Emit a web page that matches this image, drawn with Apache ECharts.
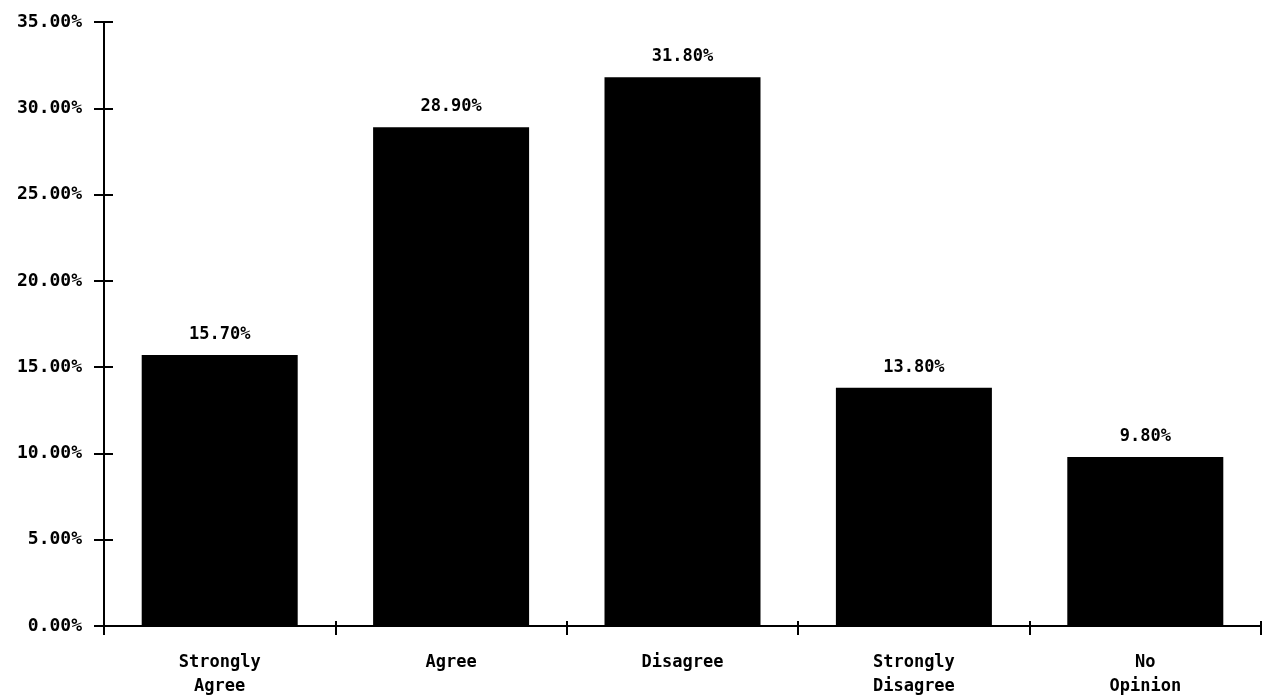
<!DOCTYPE html>
<html><head><meta charset="utf-8">
<script src="https://cdn.jsdelivr.net/npm/echarts@6/dist/echarts.min.js"></script>
<style>html,body{margin:0;padding:0;background:#fff}#c{width:1263px;height:700px}</style>
</head><body><div id="c"></div>
<script>
const categories = ["Strongly\nAgree", "Agree", "Disagree", "Strongly\nDisagree", "No\nOpinion"];
const values = [15.7, 28.9, 31.8, 13.8, 9.8];
const yTicks = [0, 5, 10, 15, 20, 25, 30, 35];

const font = '"DejaVu Sans Mono", monospace';
const yMin = yTicks[0], yMax = yTicks[yTicks.length - 1];
const chart = echarts.init(document.getElementById('c'));
chart.setOption({
  animation: false,
  backgroundColor: '#fff',
  grid: { left: 104, top: 22, width: 1157, height: 604 },
  xAxis: [{
    type: 'category',
    data: categories,
    axisLine: { lineStyle: { color: '#000', width: 2 } },
    axisTick: { show: true, length: 9, lineStyle: { color: '#000', width: 2 } },
    axisLabel: { color: '#000', fontFamily: font, fontWeight: 'bold', fontSize: 17, margin: 25, lineHeight: 24 }
  }, {
    type: 'category',
    data: categories,
    position: 'bottom',
    axisLine: { show: false },
    axisTick: { show: true, inside: true, length: 5, lineStyle: { color: '#000', width: 2 } },
    axisLabel: { show: false }
  }],
  yAxis: [{
    type: 'value',
    min: yMin,
    max: yMax,
    interval: 5,
    splitLine: { show: false },
    axisLine: { show: true, lineStyle: { color: '#000', width: 2 } },
    axisTick: { show: true, length: 10, lineStyle: { color: '#000', width: 2 } },
    axisLabel: { color: '#000', fontFamily: font, fontWeight: 'bold', fontSize: 18, margin: 22,
      formatter: v => v.toFixed(2) + '%' }
  }, {
    type: 'value',
    min: yMin,
    max: yMax,
    interval: 5,
    position: 'left',
    splitLine: { show: false },
    axisLine: { show: false },
    axisTick: { show: true, inside: true, length: 9, lineStyle: { color: '#000', width: 2 } },
    axisLabel: { show: false }
  }],
  series: [{
    type: 'bar',
    data: values,
    barWidth: 156,
    itemStyle: { color: '#000' },
    label: { show: true, position: 'top', distance: 12, color: '#000', fontFamily: font, fontWeight: 'bold', fontSize: 17,
      formatter: p => p.value.toFixed(2) + '%' }
  }]
});
</script></body></html>
